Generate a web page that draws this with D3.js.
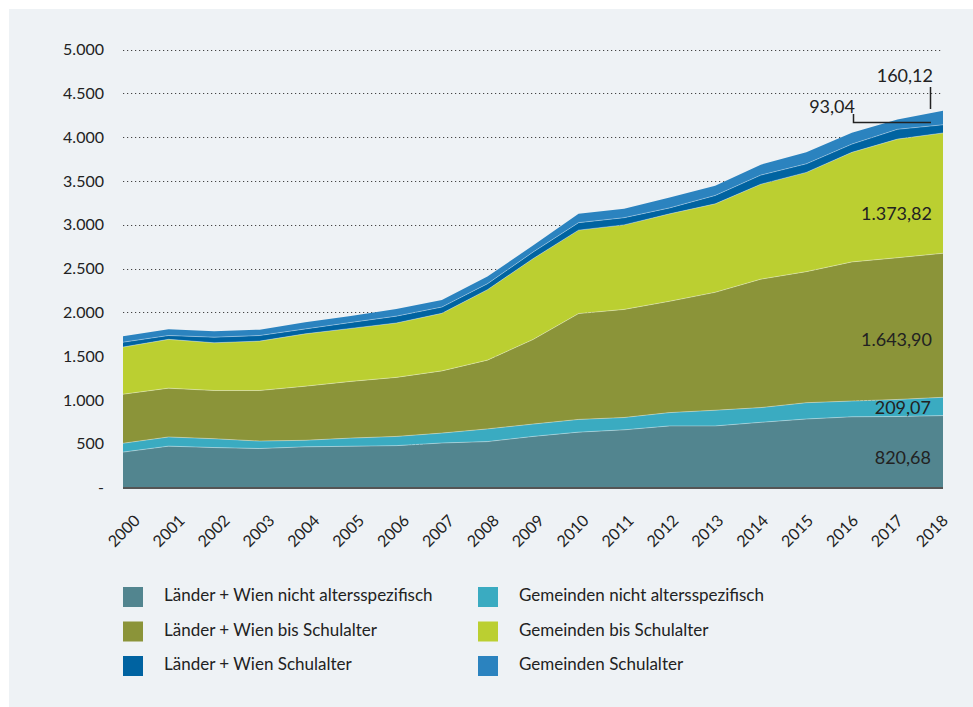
<!DOCTYPE html>
<html><head><meta charset="utf-8">
<script src="https://cdn.jsdelivr.net/npm/d3@7"></script>
<style>
html,body{margin:0;padding:0;background:#fff;}
svg{display:block;font-family:Lato,"Open Sans",sans-serif;}
</style></head>
<body>
<svg id="chart" width="973" height="707"></svg>
<script>
const years = [2000,2001,2002,2003,2004,2005,2006,2007,2008,2009,2010,2011,2012,2013,2014,2015,2016,2017,2018];
const laenderNichtAlters = [404,472,456,445,464,471,478,508,524,583,632,658,703,703,744,782,807,810,820.68];
const gemeindenNichtAlters = [101,105,101,85,75,93,105,113,145,141,145,141,152,179,168,186,180,195,209.07];
const laenderBisSchul = [560,557,550,577,617,647,674,710,785,965,1208,1234,1271,1346,1466,1496,1588,1618,1643.90];
const gemeindenBisSchul = [538,557,545,564,598,605,621,657,804,923,953,965,998,1010,1084,1133,1251,1354,1373.82];
const laenderSchul = [56,44,64,64,56,68,78,72,68,75,85,82,68,96,104,98,94,112,93.04];
const gemeindenSchul = [68,72,67,67,75,75,81,79,83,75,101,101,119,112,119,133,131,112,160.12];
const seriesNames = ["Länder + Wien nicht altersspezifisch","Gemeinden nicht altersspezifisch","Länder + Wien bis Schulalter","Gemeinden bis Schulalter","Länder + Wien Schulalter","Gemeinden Schulalter"];
const seriesColors = ["#52858f","#3aabc1","#8b9439","#bbcf31","#0063a1","#2b83bf"];
const yTicks = [0,500,1000,1500,2000,2500,3000,3500,4000,4500,5000];
const yTickLabels = ["-","500","1.000","1.500","2.000","2.500","3.000","3.500","4.000","4.500","5.000"];
const endLabels = ["820,68","209,07","1.643,90","1.373,82","93,04","160,12"];

const allSeries = [laenderNichtAlters,gemeindenNichtAlters,laenderBisSchul,gemeindenBisSchul,laenderSchul,gemeindenSchul];
const table = years.map((y,i)=>{const o={year:y}; seriesNames.forEach((n,k)=>o[n]=allSeries[k][i]); return o;});

const svg = d3.select("#chart");
svg.append("rect").attr("x",9).attr("y",9).attr("width",964).attr("height",698).attr("fill","#eef2f5");

const x = d3.scalePoint().domain(years).range([123,943]);
const xl = d3.scalePoint().domain(years).range([125,933]);
const y = d3.scaleLinear().domain([0,5000]).range([487.5,49.5]);

// gridlines
svg.append("g").selectAll("line").data(yTicks.filter(d=>d>0)).join("line")
  .attr("x1",123).attr("x2",943).attr("y1",d=>Math.round(y(d))+0.5).attr("y2",d=>Math.round(y(d))+0.5)
  .attr("stroke","#444").attr("stroke-width",1.2).attr("stroke-dasharray","1.2,2.8");

// y axis labels
const yAxis = d3.axisLeft(y).tickValues(yTicks).tickFormat((d,i)=>yTickLabels[i]).tickSize(0).tickPadding(0);
const gy = svg.append("g").attr("transform","translate(104,0)").call(yAxis);
gy.select(".domain").remove();
gy.selectAll("text").attr("font-size",16).attr("fill","#222").attr("font-family","Lato, sans-serif");

const stack = d3.stack().keys(seriesNames);
const layers = stack(table);
const area = d3.area().x(d=>x(d.data.year)).y0(d=>y(d[0])).y1(d=>y(d[1]));
const topLine = d3.line().x(d=>x(d.data.year)).y(d=>y(d[1]));

svg.append("g").selectAll("path").data(layers).join("path")
  .attr("d",area).attr("fill",(d,i)=>seriesColors[i]);
svg.append("g").selectAll("path").data(layers.slice(0,5)).join("path")
  .attr("d",topLine).attr("fill","none").attr("stroke","rgba(255,255,255,0.35)").attr("stroke-width",1);

// baseline
svg.append("line").attr("x1",123).attr("x2",943).attr("y1",y(0)+0.5).attr("y2",y(0)+0.5)
  .attr("stroke","#555").attr("stroke-width",2);

// x labels
svg.append("g").selectAll("text").data(years).join("text")
  .attr("transform",d=>`translate(${xl(d)},532) rotate(-45)`)
  .attr("text-anchor","middle").attr("dominant-baseline","middle")
  .attr("font-size",16).attr("fill","#222").text(d=>d);

// end value labels
const lab = svg.append("g").attr("font-size",18).attr("fill","#222");
lab.append("text").attr("x",931).attr("y",464).attr("text-anchor","end").text(endLabels[0]);
lab.append("text").attr("x",931).attr("y",414).attr("text-anchor","end").text(endLabels[1]);
lab.append("text").attr("x",932).attr("y",346).attr("text-anchor","end").text(endLabels[2]);
lab.append("text").attr("x",932).attr("y",220).attr("text-anchor","end").text(endLabels[3]);
lab.append("text").attr("x",855).attr("y",113).attr("text-anchor","end").text(endLabels[4]);
lab.append("text").attr("x",933).attr("y",82).attr("text-anchor","end").text(endLabels[5]);
svg.append("path").attr("d","M853.5,114 V122.5 H931").attr("fill","none").attr("stroke","#222").attr("stroke-width",1.5);
svg.append("path").attr("d","M930.5,87 V109").attr("fill","none").attr("stroke","#222").attr("stroke-width",1.5);

// legend
const lg = svg.append("g");
seriesNames.forEach((name,k)=>{
  const col = k%2, row = Math.floor(k/2);
  const gx = col===0?123:478, gyy = 587 + row*34.5;
  lg.append("rect").attr("x",gx).attr("y",gyy).attr("width",20).attr("height",20).attr("fill",seriesColors[k]);
  lg.append("text").attr("x",gx+41).attr("y",gyy+10).attr("dominant-baseline","middle")
    .attr("font-size",17).attr("fill","#222").text(name);
});
</script>
</body></html>
